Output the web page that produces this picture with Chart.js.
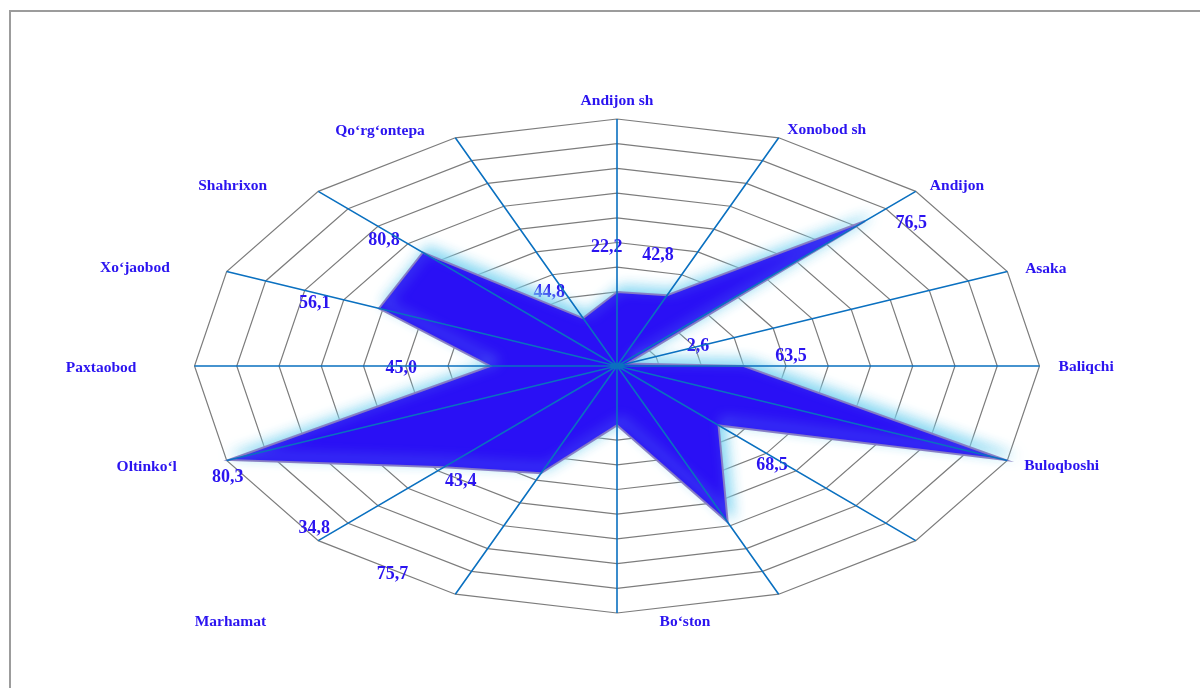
<!DOCTYPE html>
<html>
<head>
<meta charset="utf-8">
<script src="https://cdn.jsdelivr.net/npm/chart.js@4.4.1/dist/chart.umd.min.js"></script>
<style>
  html, body { margin: 0; padding: 0; background: #ffffff; width: 1200px; height: 688px; overflow: hidden; }
  #frame { position: absolute; left: 9px; top: 10px; width: 1200px; height: 700px;
           border-left: 2px solid #9c9c9c; border-top: 2px solid #9c9c9c; }
  #chart { position: absolute; left: 0; top: 0; }
</style>
</head>
<body>
<div id="frame"></div>
<canvas id="chart" width="1200" height="688"></canvas>
<script>
// Districts around the web, clockwise from the top
const CATEGORIES = [
  'Andijon sh', 'Xonobod sh', 'Andijon', 'Asaka', 'Baliqchi', 'Buloqboshi', '', '',
  'Bo‘ston', '', 'Marhamat', 'Oltinko‘l', 'Paxtaobod', 'Xo‘jaobod', 'Shahrixon', 'Qo‘rg‘ontepa'
];
const VALUES = [30, 31, 83, 2.6, 30, 99.5, 34, 68.5, 24, 47, 58, 99.5, 30, 61, 65, 21];

// Value captions printed on the web
const VALUE_TEXTS = ['22,2', '42,8', '76,5', '2,6', '63,5', '68,5', '43,4', '75,7',
                     '34,8', '80,3', '45,0', '56,1', '80,8', '44,8'];

const SCALE_MAX = 100;
const SCALE_STEP = 10;

// ---- layout (kept apart from the data) ----
const X_STRETCH = 1.7105;             // horizontal stretch of the web
// caption spot: [position along the axes (axis index + fraction), share of the radius]
const VALUE_TEXT_SPOTS = [
  [15.87, 0.479], [0.54, 0.46], [2.24, 0.904], [2.98, 0.208], [3.75, 0.414], [6.11, 0.543],
  [9.71, 0.594], [9.43, 0.998], [10.11, 0.972], [10.84, 1.026], [11.96, 0.511],
  [12.87, 0.759], [13.90, 0.751], [14.75, 0.340]
];
// extra [dx, dy] for each district name
const LABEL_NUDGE = [
  [0, -8], [2, 1.5], [2, 1.5], [2, 1.5], [2, 1], [1, 1.5], [0, 0], [0, 0],
  [68, -1], [0, 0], [-40, 74], [-34, 3], [-41, 2], [-41, 0], [-39, 2], [-24, 2]
];

const TEXT_BLUE = '#2B14F0';
const SERIF = '"Liberation Serif", "Times New Roman", serif';

// Elliptical web: stretch every radial position horizontally around the centre
const Radial = Chart.registry.getScale('radialLinear');
const basePointPosition = Radial.prototype.getPointPosition;
Radial.prototype.getPointPosition = function (index, distance, additionalAngle = 0) {
  const p = basePointPosition.call(this, index, distance, additionalAngle);
  return { x: this.xCenter + (p.x - this.xCenter) * X_STRETCH, y: p.y, angle: p.angle };
};

const webDecor = {
  id: 'webDecor',
  beforeDatasetsDraw(chart) {
    const s = chart.scales.r;
    const ctx = chart.ctx;
    const step = 2 * Math.PI / CATEGORIES.length;
    // value captions sit beneath the filled shape
    ctx.save();
    ctx.font = 'bold 18px ' + SERIF;
    ctx.fillStyle = TEXT_BLUE;
    ctx.textAlign = 'center';
    ctx.textBaseline = 'middle';
    VALUE_TEXTS.forEach((t, k) => {
      const [pos, share] = VALUE_TEXT_SPOTS[k];
      const idx = Math.floor(pos);
      const p = s.getPointPosition(idx, share * s.drawingArea, (pos - idx) * step);
      ctx.fillText(t, p.x, p.y);
    });
    ctx.restore();
    // soft cyan glow, thrown up and to the right of the filled shape
    ctx.save();
    ctx.shadowColor = 'rgba(120, 210, 240, 0.95)';
    ctx.shadowBlur = 13;
    ctx.shadowOffsetX = 5;
    ctx.shadowOffsetY = -5;
  },
  afterDatasetsDraw(chart) {
    const ctx = chart.ctx;
    ctx.restore();
    const s = chart.scales.r;
    // spokes are drawn over the filled shape
    ctx.save();
    ctx.strokeStyle = '#0A70C0';
    ctx.lineWidth = 1.6;
    ctx.beginPath();
    for (let i = 0; i < CATEGORIES.length; i++) {
      const p = s.getPointPosition(i, s.drawingArea);
      ctx.moveTo(s.xCenter, s.yCenter);
      ctx.lineTo(p.x, p.y);
    }
    ctx.stroke();
    ctx.restore();
  },
  afterDraw(chart) {
    const s = chart.scales.r;
    const ctx = chart.ctx;
    ctx.save();
    ctx.font = 'bold 15.5px ' + SERIF;
    ctx.fillStyle = TEXT_BLUE;
    ctx.textBaseline = 'middle';
    CATEGORIES.forEach((name, i) => {
      if (!name) return;
      const p = s.getPointPosition(i, s.drawingArea + 10);
      const dx = p.x - s.xCenter;
      ctx.textAlign = dx > 1 ? 'left' : (dx < -1 ? 'right' : 'center');
      ctx.fillText(name, p.x + LABEL_NUDGE[i][0], p.y + LABEL_NUDGE[i][1]);
    });
    ctx.restore();
  }
};

new Chart(document.getElementById('chart'), {
  type: 'radar',
  data: {
    labels: CATEGORIES,
    datasets: [{
      data: VALUES,
      fill: true,
      backgroundColor: '#2A10F5',
      borderColor: 'rgba(135, 125, 195, 0.95)',
      borderWidth: 2,
      pointRadius: 0,
      pointHoverRadius: 0,
      clip: false
    }]
  },
  options: {
    responsive: false,
    animation: false,
    devicePixelRatio: 1,
    layout: { padding: { left: 34, right: 0, top: 119, bottom: 75 } },
    plugins: { legend: { display: false }, tooltip: { enabled: false } },
    scales: {
      r: {
        min: 0,
        max: SCALE_MAX,
        ticks: { display: false, stepSize: SCALE_STEP },
        grid: { color: '#7c7c7c', lineWidth: 1.2, circular: false },
        angleLines: { display: false },
        pointLabels: { display: false }
      }
    }
  },
  plugins: [webDecor]
});
</script>
</body>
</html>
